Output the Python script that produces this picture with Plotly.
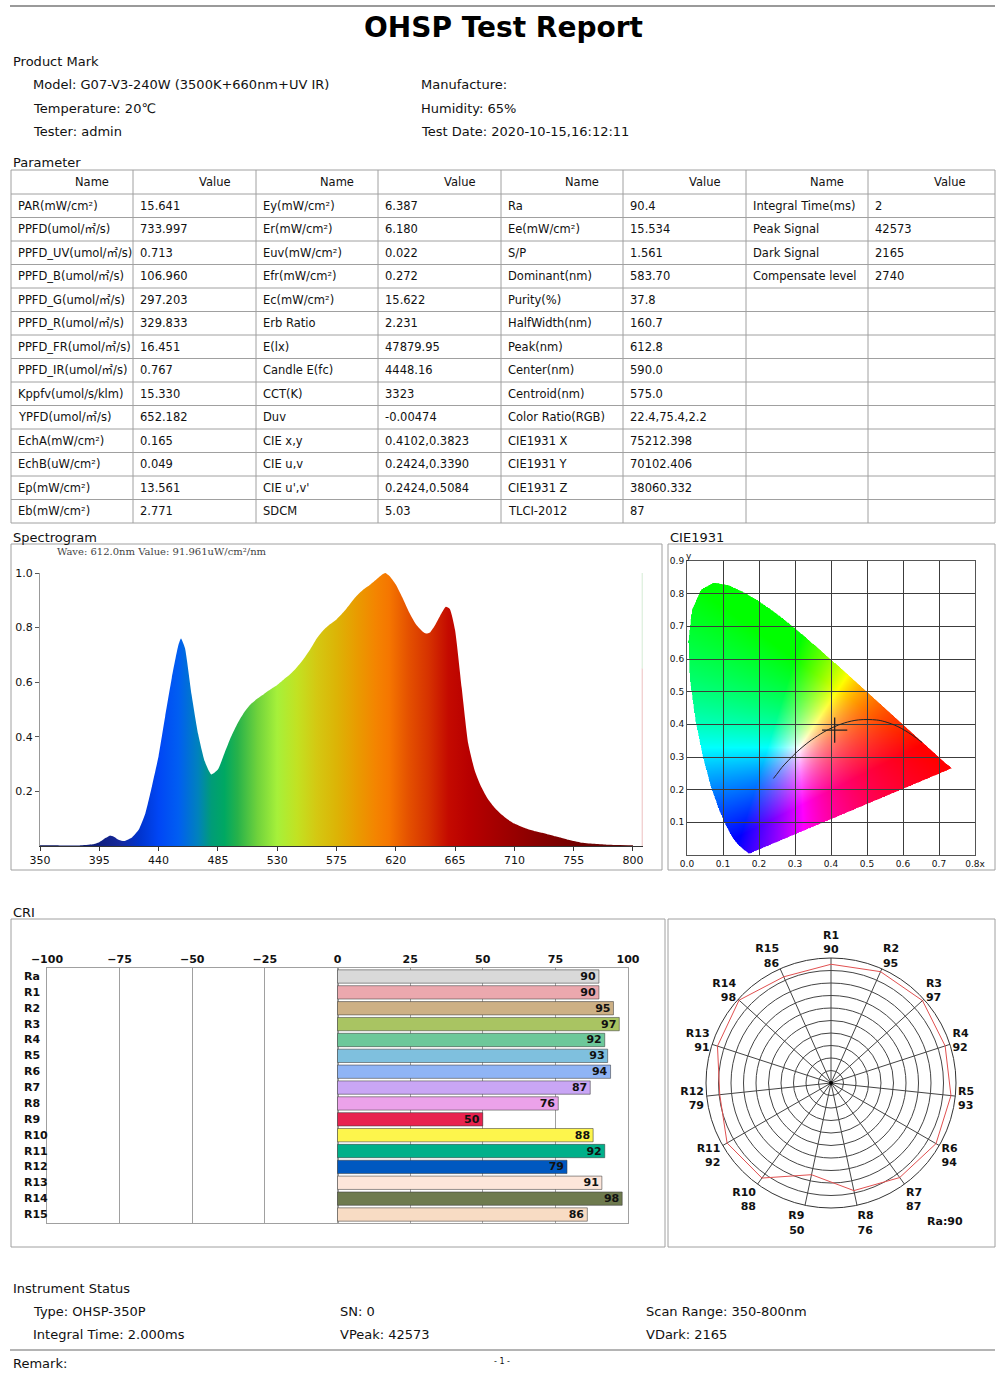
import base64
import struct
import zlib

import numpy as np
import plotly.graph_objects as go

W, H = 1000, 1375
FONT = "DejaVu Sans, Verdana, Noto Sans CJK SC, sans-serif"
GRAY = "#a0a0a0"

# ---------------- data ----------------
p1_names = ["PAR(mW/cm²)", "PPFD(umol/㎡/s)", "PPFD_UV(umol/㎡/s)", "PPFD_B(umol/㎡/s)",
            "PPFD_G(umol/㎡/s)", "PPFD_R(umol/㎡/s)", "PPFD_FR(umol/㎡/s)", "PPFD_IR(umol/㎡/s)",
            "Kppfv(umol/s/klm)", "YPFD(umol/㎡/s)", "EchA(mW/cm²)", "EchB(uW/cm²)",
            "Ep(mW/cm²)", "Eb(mW/cm²)"]
p1_values = ["15.641", "733.997", "0.713", "106.960", "297.203", "329.833", "16.451",
             "0.767", "15.330", "652.182", "0.165", "0.049", "13.561", "2.771"]
p2_names = ["Ey(mW/cm²)", "Er(mW/cm²)", "Euv(mW/cm²)", "Efr(mW/cm²)", "Ec(mW/cm²)",
            "Erb Ratio", "E(lx)", "Candle E(fc)", "CCT(K)", "Duv", "CIE x,y", "CIE u,v",
            "CIE u',v'", "SDCM"]
p2_values = ["6.387", "6.180", "0.022", "0.272", "15.622", "2.231", "47879.95", "4448.16",
             "3323", "-0.00474", "0.4102,0.3823", "0.2424,0.3390", "0.2424,0.5084", "5.03"]
p3_names = ["Ra", "Ee(mW/cm²)", "S/P", "Dominant(nm)", "Purity(%)", "HalfWidth(nm)",
            "Peak(nm)", "Center(nm)", "Centroid(nm)", "Color Ratio(RGB)", "CIE1931 X",
            "CIE1931 Y", "CIE1931 Z", "TLCI-2012"]
p3_values = ["90.4", "15.534", "1.561", "583.70", "37.8", "160.7", "612.8", "590.0",
             "575.0", "22.4,75.4,2.2", "75212.398", "70102.406", "38060.332", "87"]
p4_names = ["Integral Time(ms)", "Peak Signal", "Dark Signal", "Compensate level"]
p4_values = ["2", "42573", "2165", "2740"]

# relative spectrum
spec_nm = [350, 360, 370, 380, 390, 395, 400, 403, 406, 410, 414, 420, 425, 430, 435, 440,
           445, 450, 455, 457, 460, 465, 470, 475, 480, 485, 490, 495, 500, 505, 510, 515,
           520, 525, 530, 535, 540, 545, 550, 555, 560, 565, 570, 575, 580, 585, 590, 595,
           600, 605, 610, 612, 615, 620, 625, 630, 635, 640, 643, 646, 650, 655, 658, 661,
           665, 670, 675, 680, 685, 690, 695, 700, 705, 710, 715, 720, 725, 730, 735, 740,
           745, 750, 755, 760, 770, 780, 790, 800]
spec_val = [0.003, 0.003, 0.002, 0.002, 0.006, 0.014, 0.030, 0.038, 0.034, 0.022, 0.018,
            0.032, 0.060, 0.120, 0.220, 0.330, 0.475, 0.615, 0.735, 0.760, 0.725, 0.555,
            0.410, 0.310, 0.262, 0.280, 0.340, 0.400, 0.450, 0.490, 0.520, 0.540, 0.557,
            0.574, 0.590, 0.610, 0.630, 0.655, 0.685, 0.720, 0.760, 0.790, 0.812, 0.830,
            0.855, 0.885, 0.915, 0.938, 0.955, 0.975, 0.995, 1.000, 0.990, 0.958, 0.910,
            0.857, 0.814, 0.787, 0.778, 0.782, 0.810, 0.855, 0.876, 0.868, 0.790, 0.580,
            0.375, 0.275, 0.215, 0.171, 0.140, 0.116, 0.097, 0.082, 0.071, 0.062, 0.055,
            0.049, 0.043, 0.037, 0.031, 0.024, 0.018, 0.013, 0.008, 0.005, 0.004, 0.003]
spec_ticks = [350, 395, 440, 485, 530, 575, 620, 665, 710, 755, 800]
spec_color_nm = [350, 395, 410, 425, 440, 455, 470, 480, 490, 500, 515, 530, 545, 560, 575,
                 590, 605, 615, 630, 645, 660, 675, 700, 730, 760, 800]
spec_color_hex = ["#0b165e", "#0f1f80", "#16289a", "#0033cc", "#0046f5", "#005ef2", "#0082bc",
                  "#009c78", "#00a862", "#27b24a", "#6fd23c", "#a6f03a", "#c2e222", "#d4c812",
                  "#dcb406", "#e99c00", "#f48400", "#f57600", "#e45000", "#d63200", "#c40a00",
                  "#b80000", "#a10000", "#860000", "#700000", "#5c0808"]

# CIE 1931 spectral locus (380-700 nm) and Planckian locus
locus_x = [0.1741, 0.1740, 0.1738, 0.1736, 0.1733, 0.1730, 0.1726, 0.1721, 0.1714, 0.1703,
           0.1689, 0.1669, 0.1644, 0.1611, 0.1566, 0.1510, 0.1440, 0.1355, 0.1241, 0.1096,
           0.0913, 0.0687, 0.0454, 0.0235, 0.0082, 0.0039, 0.0139, 0.0389, 0.0743, 0.1142,
           0.1547, 0.1929, 0.2296, 0.2658, 0.3016, 0.3373, 0.3731, 0.4087, 0.4441, 0.4788,
           0.5125, 0.5448, 0.5752, 0.6029, 0.6270, 0.6482, 0.6658, 0.6801, 0.6915, 0.7006,
           0.7079, 0.7140, 0.7190, 0.7230, 0.7260, 0.7283, 0.7300, 0.7311, 0.7320, 0.7334,
           0.7347]
locus_y = [0.0050, 0.0050, 0.0049, 0.0049, 0.0048, 0.0048, 0.0048, 0.0048, 0.0051, 0.0058,
           0.0069, 0.0086, 0.0109, 0.0138, 0.0177, 0.0227, 0.0297, 0.0399, 0.0578, 0.0868,
           0.1327, 0.2007, 0.2950, 0.4127, 0.5384, 0.6548, 0.7502, 0.8120, 0.8338, 0.8262,
           0.8059, 0.7816, 0.7543, 0.7243, 0.6923, 0.6589, 0.6245, 0.5896, 0.5547, 0.5202,
           0.4866, 0.4544, 0.4242, 0.3965, 0.3725, 0.3514, 0.3340, 0.3197, 0.3083, 0.2993,
           0.2920, 0.2859, 0.2809, 0.2770, 0.2740, 0.2717, 0.2700, 0.2689, 0.2680, 0.2666,
           0.2653]
planck_x = [0.2400, 0.2486, 0.2565, 0.2637, 0.2807, 0.2952, 0.3064, 0.3221, 0.3451, 0.3805,
            0.4053, 0.4369, 0.4770, 0.5267, 0.5496, 0.5857, 0.6251, 0.6528]
planck_y = [0.2343, 0.2463, 0.2577, 0.2683, 0.2884, 0.3048, 0.3166, 0.3318, 0.3516, 0.3768,
            0.3907, 0.4041, 0.4137, 0.4133, 0.4081, 0.3931, 0.3674, 0.3444]
cie_point = (0.4102, 0.3823)

cri_labels = ["Ra", "R1", "R2", "R3", "R4", "R5", "R6", "R7", "R8", "R9", "R10", "R11",
              "R12", "R13", "R14", "R15"]
cri_values = [90, 90, 95, 97, 92, 93, 94, 87, 76, 50, 88, 92, 79, 91, 98, 86]
cri_colors = ["#d9d9d9", "#eba8ae", "#cdb085", "#a9c462", "#6dc89a", "#7fc0de", "#8fb4f5",
              "#c9a6f5", "#eba2ea", "#e8234f", "#fdf54c", "#00b08a", "#0058c0", "#fde6da",
              "#6e7a4e", "#f8dcc4"]
cri_ticks = [-100, -75, -50, -25, 0, 25, 50, 75, 100]


# ---------------- helpers ----------------
def px(x):
    return x / W


def py(y):
    return 1 - y / H


annotations = []
shapes = []


def txt(x, y, s, size=13, anchor="left", bold=False, color="#111", family=FONT):
    annotations.append(dict(x=px(x), y=py(y), xref="paper", yref="paper", text=s,
                            showarrow=False, xanchor=anchor, yanchor="middle",
                            font=dict(size=size, color=color, family=family,
                                      weight="bold" if bold else "normal")))


def line(x0, y0, x1, y1, color=GRAY, width=1):
    shapes.append(dict(type="line", xref="paper", yref="paper", x0=px(x0), y0=py(y0),
                       x1=px(x1), y1=py(y1), line=dict(color=color, width=width)))


def box(x0, y0, x1, y1):
    shapes.append(dict(type="rect", xref="paper", yref="paper", x0=px(x0), y0=py(y0),
                       x1=px(x1), y1=py(y1), line=dict(color=GRAY, width=1)))


def png_uri(rgba):
    h, w, _ = rgba.shape
    raw = b"".join(b"\x00" + rgba[i].tobytes() for i in range(h))

    def chunk(tag, data):
        return (struct.pack(">I", len(data)) + tag + data +
                struct.pack(">I", zlib.crc32(tag + data) & 0xffffffff))

    png = (b"\x89PNG\r\n\x1a\n" +
           chunk(b"IHDR", struct.pack(">IIBBBBB", w, h, 8, 6, 0, 0, 0)) +
           chunk(b"IDAT", zlib.compress(raw, 9)) + chunk(b"IEND", b""))
    return "data:image/png;base64," + base64.b64encode(png).decode()


def inside_polygon(qx, qy, vx, vy):
    res = np.zeros(qx.shape, bool)
    j = len(vx) - 1
    for i in range(len(vx)):
        xi, yi, xj, yj = vx[i], vy[i], vx[j], vy[j]
        cross = ((yi > qy) != (yj > qy)) & (qx < (xj - xi) * (qy - yi) / (yj - yi + 1e-12) + xi)
        res ^= cross
        j = i
    return res


# ---------------- header ----------------
line(10, 6, 995, 6, "#9a9a9a", 2)
txt(503, 27, "OHSP Test Report", size=28, anchor="center", bold=True, color="#000")
txt(11, 61, "Product Mark")
txt(31, 85, "Model: G07-V3-240W (3500K+660nm+UV IR)")
txt(419, 85, "Manufacture:")
txt(31, 108, "Temperature: 20℃")
txt(419, 108, "Humidity: 65%")
txt(31, 131, "Tester: admin")
txt(419, 131, "Test Date: 2020-10-15,16:12:11")

# ---------------- parameter table ----------------
txt(11, 163, "Parameter")
col_edges = [11, 133, 256, 378, 501, 623, 746, 868, 995]
t_top, head_h, row_h = 170, 24, 23.5
t_bot = t_top + head_h + 14 * row_h
for xe in col_edges:
    line(xe, t_top, xe, t_bot)
line(11, t_top, 995, t_top)
for k in range(15):
    yy = t_top + head_h + k * row_h
    line(11, yy, 995, yy)
for c in range(4):
    txt(col_edges[2 * c] + 81, t_top + head_h / 2, "Name", size=11.5, anchor="center")
    txt(col_edges[2 * c + 1] + 82, t_top + head_h / 2, "Value", size=11.5, anchor="center")
for c, (names, values) in enumerate([(p1_names, p1_values), (p2_names, p2_values),
                                     (p3_names, p3_values), (p4_names, p4_values)]):
    for r, (nm, val) in enumerate(zip(names, values)):
        yc = t_top + head_h + (r + 0.5) * row_h
        txt(col_edges[2 * c] + 5, yc, nm, size=11.5)
        txt(col_edges[2 * c + 1] + 5, yc, val, size=11.5)

# ---------------- section titles / boxes ----------------
txt(11, 538, "Spectrogram")
txt(668, 538, "CIE1931")
box(11, 544, 662, 870)
box(668, 544, 995, 870)
txt(55, 551, "Wave: 612.0nm Value: 91.961uW/cm²/nm", size=10, color="#444",
    family="DejaVu Serif, Liberation Serif, serif")
txt(684, 556, "y", size=9)

txt(11, 912, "CRI")
box(11, 919, 665, 1247)
box(668, 919, 995, 1247)
txt(945, 1221, "Ra:90", size=11, anchor="center", bold=True)

txt(11, 1288, "Instrument Status")
txt(31, 1311, "Type: OHSP-350P")
txt(338, 1311, "SN: 0")
txt(644, 1311, "Scan Range: 350-800nm")
txt(31, 1334, "Integral Time: 2.000ms")
txt(338, 1334, "VPeak: 42573")
txt(644, 1334, "VDark: 2165")
line(10, 1350, 995, 1350, "#b4b4b4", 2)
txt(11, 1363, "Remark:")
txt(502, 1361, "- 1 -", size=8, anchor="center")

# ---------------- figure ----------------
fig = go.Figure()

span = spec_color_nm[-1] - spec_color_nm[0]
spec_scale = [[(n - spec_color_nm[0]) / span, c] for n, c in zip(spec_color_nm, spec_color_hex)]
fig.add_trace(go.Scatter(
    x=spec_nm, y=spec_val, mode="lines", fill="tozeroy",
    line=dict(width=0, shape="spline", smoothing=0.5, color="rgba(0,0,0,0)"),
    fillgradient=dict(type="horizontal", colorscale=spec_scale, start=350, stop=800),
    xaxis="x", yaxis="y", hoverinfo="skip"))
# faint marker line at the right end of the spectrogram
shapes.append(dict(type="line", xref="x", yref="y", x0=807, x1=807, y0=0, y1=0.65,
                   line=dict(color="rgba(225,150,150,0.6)", width=1)))
shapes.append(dict(type="line", xref="x", yref="y", x0=807, x1=807, y0=0.65, y1=1.0,
                   line=dict(color="rgba(170,215,170,0.5)", width=1)))

# CIE horseshoe colour image (saturated rendering)
nx, ny = 480, 540
gx = (np.arange(nx) + 0.5) * 0.8 / nx
gy = 0.9 - (np.arange(ny) + 0.5) * 0.9 / ny
GX, GY = np.meshgrid(gx, gy)
mask = inside_polygon(GX, GY, np.array(locus_x), np.array(locus_y))
yy_safe = np.maximum(GY, 1e-4)
Xc, Yc, Zc = GX / yy_safe, np.ones_like(GX), (1 - GX - GY) / yy_safe
rl = 3.2406 * Xc - 1.5372 * Yc - 0.4986 * Zc
gl = -0.9689 * Xc + 1.8758 * Yc + 0.0415 * Zc
bl = 0.0557 * Xc - 0.2040 * Yc + 1.0570 * Zc
rgb = np.clip(np.stack([rl, gl, bl], -1), 0, None)
rgb = rgb / np.maximum(rgb.max(-1, keepdims=True), 1e-9)
rgb = rgb ** 0.85
rgba = np.zeros((ny, nx, 4), np.uint8)
rgba[..., :3] = np.clip(rgb * 255, 0, 255).astype(np.uint8)
rgba[..., 3] = np.where(mask, 255, 0)

fig.add_trace(go.Scatter(x=planck_x, y=planck_y, mode="lines",
                         line=dict(color="#222", width=1, shape="spline"),
                         xaxis="x2", yaxis="y2", hoverinfo="skip"))
fig.add_trace(go.Scatter(x=[cie_point[0]], y=[cie_point[1]], mode="markers",
                         marker=dict(symbol="cross-thin", size=18,
                                     line=dict(color="#222", width=1.3)),
                         xaxis="x2", yaxis="y2", hoverinfo="skip"))

fig.add_trace(go.Bar(
    y=cri_labels, x=cri_values, orientation="h", width=0.84,
    marker=dict(color=cri_colors, line=dict(color="rgba(60,60,60,0.55)", width=1)),
    text=[str(v) for v in cri_values], textposition="inside", insidetextanchor="end",
    textangle=0, constraintext="none",
    textfont=dict(size=11, color="#111", weight="bold", family=FONT),
    xaxis="x3", yaxis="y3", hoverinfo="skip"))
for lab in cri_labels:
    annotations.append(dict(x=px(22), y=lab, xref="paper", yref="y3", text=lab,
                            showarrow=False, xanchor="left", yanchor="middle",
                            font=dict(size=11, weight="bold", color="#111")))

r_vals = cri_values[1:]
angles = [i * 360 / len(r_vals) for i in range(len(r_vals))]
fig.add_trace(go.Scatterpolar(r=r_vals + r_vals[:1], theta=angles + angles[:1], mode="lines",
                              line=dict(color="#e05050", width=1), hoverinfo="skip"))
fig.add_trace(go.Scatterpolar(r=[-100], theta=[0], mode="markers",
                              marker=dict(color="#000", size=4), hoverinfo="skip"))

fig.update_layout(
    width=W, height=H, margin=dict(l=0, r=0, t=0, b=0, autoexpand=False),
    paper_bgcolor="white", plot_bgcolor="white", showlegend=False,
    font=dict(family=FONT, size=11, color="#111"),
    xaxis=dict(domain=[px(40), px(643)], range=[350, 807.6], tickvals=spec_ticks,
               ticks="outside", ticklen=4, tickcolor="#333", showline=True, linecolor="#333",
               showgrid=False, zeroline=False, anchor="y", automargin=False),
    yaxis=dict(domain=[py(846), py(573)], range=[0, 1.0], tickvals=[0.2, 0.4, 0.6, 0.8, 1.0],
               tickformat=".1f", ticks="outside", ticklen=4, tickcolor="#555", showline=True,
               linecolor="#999", showgrid=False, zeroline=False, anchor="x", automargin=False),
    xaxis2=dict(domain=[px(687), px(975)], range=[0, 0.8],
                tickvals=[0, 0.1, 0.2, 0.3, 0.4, 0.5, 0.6, 0.7, 0.8],
                ticktext=["0.0", "0.1", "0.2", "0.3", "0.4", "0.5", "0.6", "0.7", "0.8x"],
                showgrid=True, gridcolor="#3c3c3c", gridwidth=1, showline=True, mirror=True,
                linecolor="#555", zeroline=False, ticks="", tickfont=dict(size=9),
                anchor="y2", automargin=False),
    yaxis2=dict(domain=[py(855), py(561)], range=[0, 0.9],
                tickvals=[0.1, 0.2, 0.3, 0.4, 0.5, 0.6, 0.7, 0.8, 0.9], tickformat=".1f",
                showgrid=True, gridcolor="#3c3c3c", gridwidth=1, showline=True, mirror=True,
                linecolor="#555", zeroline=False, ticks="", tickfont=dict(size=9),
                anchor="x2", automargin=False),
    xaxis3=dict(domain=[px(47), px(628)], range=[-100, 100], side="top", tickvals=cri_ticks,
                tickfont=dict(size=11, weight="bold"), ticks="", showgrid=True,
                gridcolor=GRAY, zeroline=True, zerolinecolor=GRAY, showline=True,
                mirror=True, linecolor=GRAY, anchor="y3", automargin=False),
    yaxis3=dict(domain=[py(1223), py(968)], type="category", categoryarray=cri_labels,
                autorange="reversed", showticklabels=False, showline=True, mirror=True,
                linecolor=GRAY, showgrid=False, anchor="x3", automargin=False),
    polar=dict(
        domain=dict(x=[px(706), px(956)], y=[py(1208), py(958)]), bgcolor="white",
        radialaxis=dict(range=[-100, 100], tickvals=list(range(-80, 100, 20)),
                        showticklabels=False, ticks="", showline=False,
                        gridcolor="#444", gridwidth=1),
        angularaxis=dict(rotation=90, direction="clockwise", tickvals=angles,
                         ticktext=[f"R{i + 1}<br>{v}" for i, v in enumerate(r_vals)],
                         showline=True, linecolor="#333", gridcolor="#444", ticks="",
                         tickfont=dict(size=11, weight="bold"))),
    images=[dict(source=png_uri(rgba), xref="x2", yref="y2", x=0, y=0.9, sizex=0.8,
                 sizey=0.9, sizing="stretch", xanchor="left", yanchor="top", layer="below")],
    annotations=annotations, shapes=shapes,
)

# page without the default body margin so the 1000x1375 figure fills the window
fig.write_html("out.html", config={"displayModeBar": False},
               post_script="document.body.style.margin='0';"
                           "document.body.style.overflow='hidden';")
